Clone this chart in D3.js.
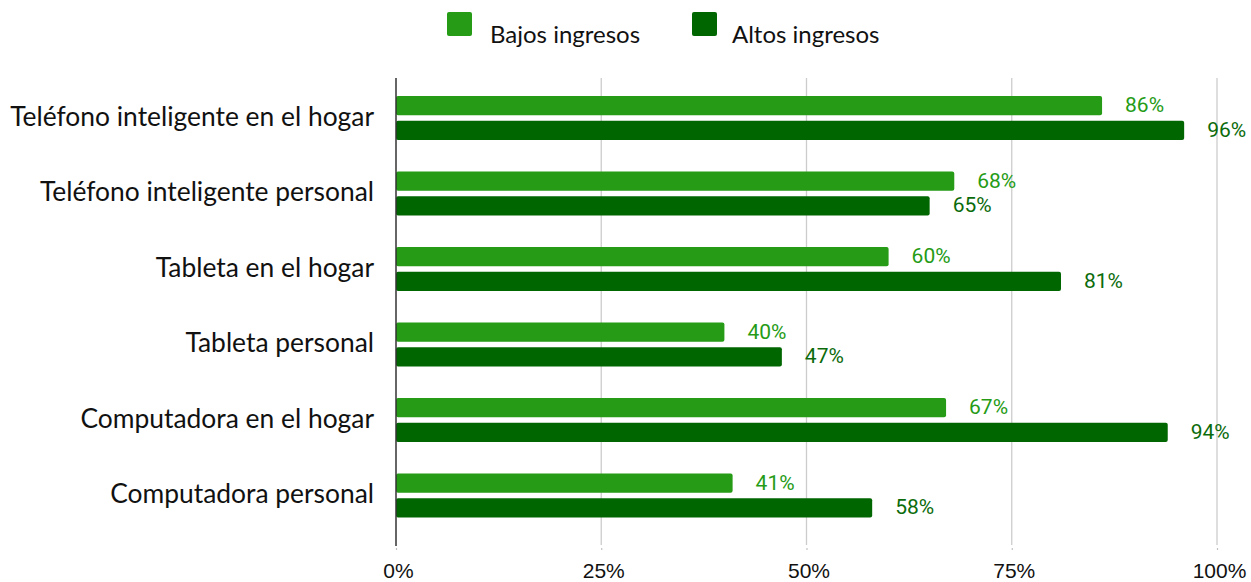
<!DOCTYPE html>
<html>
<head>
<meta charset="utf-8">
<script src="https://cdn.jsdelivr.net/npm/d3@7"></script>
<style>
  body { margin: 0; background: #fff; }
</style>
</head>
<body>
<script>
const WIDTH = 1251;
const HEIGHT = 582;

var CATEGORIES = [
  "Teléfono inteligente en el hogar",
  "Teléfono inteligente personal",
  "Tableta en el hogar",
  "Tableta personal",
  "Computadora en el hogar",
  "Computadora personal"
];
var SERIES = ["Bajos ingresos", "Altos ingresos"];
var BAJOS = [86, 68, 60, 40, 67, 41];
var ALTOS = [96, 65, 81, 47, 94, 58];
var TICKS = [0, 25, 50, 75, 100];

var COLORS = ["#259b16", "#006600"];
var LABEL_COLORS = ["#259b16", "#0b6b0b"];

//DEFINE scales
var xScale = d3.scaleLinear()
  .domain([0, 100])
  .range([396, 1217]);

var yScale = d3.scaleBand()
  .domain(CATEGORIES)
  .range([80, 533]);

var inner = d3.scaleBand()
  .domain(SERIES)
  .range([16, 60])
  .paddingInner(0.22);

var svg = d3.select("body")
  .append("svg")
  .attr("width", WIDTH)
  .attr("height", HEIGHT);

//gridlines
svg.append("g")
  .selectAll("line")
  .data(TICKS.slice(1))
  .enter()
  .append("line")
  .attr("x1", d => xScale(d))
  .attr("x2", d => xScale(d))
  .attr("y1", 78)
  .attr("y2", 545)
  .attr("stroke", "#cccccc")
  .attr("stroke-width", 1.3);

//bars
var data = [];
CATEGORIES.forEach((c, i) => {
  data.push({ cat: c, s: 0, v: BAJOS[i] });
  data.push({ cat: c, s: 1, v: ALTOS[i] });
});

svg.append("g")
  .selectAll("rect")
  .data(data)
  .enter()
  .append("rect")
  .attr("x", xScale(0))
  .attr("y", d => yScale(d.cat) + inner(SERIES[d.s]))
  .attr("width", d => xScale(d.v) - xScale(0))
  .attr("height", inner.bandwidth())
  .attr("rx", 2)
  .attr("fill", d => COLORS[d.s]);

//value labels
svg.append("g")
  .selectAll("text")
  .data(data)
  .enter()
  .append("text")
  .text(d => d.v + "%")
  .attr("x", d => xScale(d.v) + 23)
  .attr("y", d => yScale(d.cat) + inner(SERIES[d.s]) + inner.bandwidth() / 2 + 6.5)
  .attr("font-family", "Roboto, sans-serif")
  .attr("font-size", "21px")
  .attr("fill", d => LABEL_COLORS[d.s]);

//axis line
svg.append("line")
  .attr("x1", xScale(0))
  .attr("x2", xScale(0))
  .attr("y1", 78)
  .attr("y2", 546)
  .attr("stroke", "#333")
  .attr("stroke-width", 1.5);

//category labels
svg.append("g")
  .selectAll("text")
  .data(CATEGORIES)
  .enter()
  .append("text")
  .text(d => d)
  .attr("text-anchor", "end")
  .attr("x", 374)
  .attr("y", d => yScale(d) + yScale.bandwidth() / 2 + 8)
  .attr("font-family", "Lato, sans-serif")
  .attr("font-size", "26.4px")
  .attr("fill", "#111");

//x axis
var xAxis = d3.axisBottom(xScale)
  .tickValues(TICKS)
  .tickFormat(d => d + "%")
  .tickSize(0)
  .tickPadding(14);

var gx = svg.append("g")
  .attr("transform", "translate(0," + 549 + ")")
  .call(xAxis);
gx.select(".domain").remove();
gx.selectAll("text")
  .attr("font-family", "'Liberation Sans', Arial, sans-serif")
  .attr("font-size", "21px")
  .attr("fill", "#111")
  .attr("dx", 2);
gx.selectAll(".tick")
  .append("circle")
  .attr("r", 0.7)
  .attr("fill", "#999");

//legend
var legend = svg.append("g")
  .selectAll("g")
  .data(SERIES)
  .enter()
  .append("g")
  .attr("transform", (d, i) => "translate(" + [447, 692][i] + ",12)");

legend.append("rect")
  .attr("width", 25)
  .attr("height", 24)
  .attr("rx", 2)
  .attr("fill", (d, i) => COLORS[i]);

legend.append("text")
  .text(d => d)
  .attr("x", d => d === SERIES[0] ? 43 : 40)
  .attr("y", 31)
  .attr("font-family", "Lato, sans-serif")
  .attr("font-size", "24px")
  .attr("fill", "#111");
</script>
</body>
</html>
